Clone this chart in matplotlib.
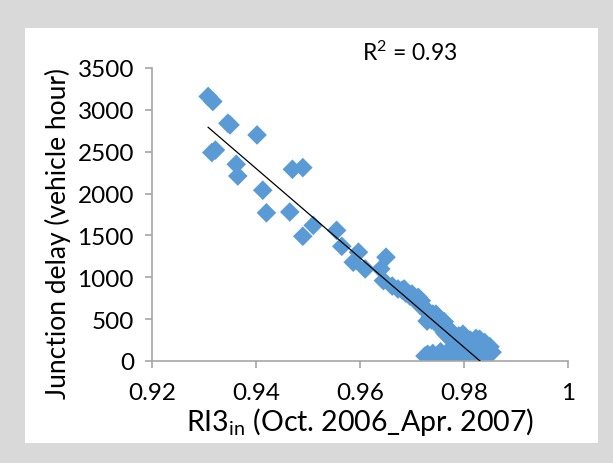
import numpy as np
import matplotlib.pyplot as plt
from matplotlib.patches import Rectangle

plt.rcParams['font.family'] = ['Lato', 'DejaVu Sans']
plt.rcParams['mathtext.fontset'] = 'custom'
plt.rcParams['mathtext.rm'] = 'Lato'
plt.rcParams['mathtext.it'] = 'Lato'

# scattered points (upper left part)
ri3_sparse = [0.9308, 0.9317, 0.9346, 0.9350, 0.9402, 0.9315, 0.9322, 0.9362,
              0.9365, 0.9413, 0.9420, 0.9470, 0.9490, 0.9465, 0.9490, 0.9510,
              0.9555, 0.9565, 0.9587, 0.9597, 0.9610, 0.9650, 0.9640, 0.9645]
delay_sparse = [3160, 3100, 2840, 2820, 2700, 2490, 2520, 2350,
                2210, 2040, 1770, 2290, 2310, 1780, 1490, 1620,
                1560, 1370, 1180, 1300, 1100, 1240, 1100, 960]

# dense band along the line
ri3_band = [0.9662, 0.9673, 0.9681, 0.9688, 0.9696, 0.9704, 0.9710, 0.9715,
            0.9721, 0.9727, 0.9731, 0.9735, 0.9729, 0.9738, 0.9744, 0.9748,
            0.9752, 0.9756, 0.9760, 0.9763, 0.9767, 0.9773, 0.9777, 0.9783,
            0.9788, 0.9794, 0.9798, 0.9804, 0.9810, 0.9815, 0.9821, 0.9827,
            0.9833, 0.9838, 0.9685, 0.9712, 0.9746, 0.9762, 0.9798, 0.9812,
            0.9823, 0.9835, 0.9845, 0.9854, 0.9790, 0.9768, 0.9700, 0.9718,
            0.9740, 0.9758, 0.9778, 0.9805, 0.9830, 0.9840, 0.9850]
delay_band = [895, 860, 847, 811, 775, 752, 716, 668,
              656, 608, 573, 525, 477, 489, 501, 453,
              418, 406, 370, 334, 310, 274, 250, 227,
              203, 227, 179, 155, 143, 119, 107, 131,
              95, 84, 860, 760, 560, 470, 320, 250,
              270, 190, 150, 105, 300, 400, 800, 720,
              560, 470, 330, 260, 260, 220, 170]

# flat cluster near zero
ri3_low = [0.9725, 0.9730, 0.9735, 0.9740, 0.9745, 0.9750, 0.9755, 0.9760,
           0.9765, 0.9770, 0.9775, 0.9780, 0.9785, 0.9790, 0.9795, 0.9800,
           0.9805, 0.9810, 0.9815, 0.9820, 0.9830, 0.9842, 0.9848]
delay_low = [60, 80, 40, 90, 50, 70, 110, 40,
             80, 120, 60, 90, 40, 70, 100, 50,
             60, 40, 80, 30, 40, 60, 90]

x = np.array(ri3_sparse + ri3_band + ri3_low)
y = np.array(delay_sparse + delay_band + delay_low)

fig = plt.figure(figsize=(6.13, 4.64), dpi=100)
fig.patch.set_facecolor('#d9d9d9')
fig.patches.append(Rectangle((25 / 613, 1 - 444 / 464), 573 / 613, 415 / 464,
                             transform=fig.transFigure, facecolor='white',
                             edgecolor='none', zorder=-5))

ax = fig.add_axes([152 / 613, 1 - 362 / 464, 416 / 613, 293 / 464])
ax.set_facecolor('none')

ax.scatter(x, y, marker='D', s=100, color='#5b9bd5', edgecolors='none', zorder=2)

# linear trend line
coef = np.polyfit(x, y, 1)
xl = np.array([x.min(), x.max()])
ax.plot(xl, np.polyval(coef, xl), color='black', lw=0.9, zorder=3)

ax.set_xlim(0.92, 1.0)
ax.set_ylim(0, 3500)
ax.set_xticks([0.92, 0.94, 0.96, 0.98, 1.0])
ax.set_xticklabels(['0.92', '0.94', '0.96', '0.98', '1'])
ax.set_yticks(range(0, 3501, 500))

for s in ['top', 'right']:
    ax.spines[s].set_visible(False)
for s in ['left', 'bottom']:
    ax.spines[s].set_color('#a6a6a6')
    ax.spines[s].set_linewidth(1.2)
ax.tick_params(axis='both', colors='#a6a6a6', labelcolor='black',
               labelsize=17.5, length=5, width=1.2)
ax.tick_params(axis='y', pad=8)
ax.tick_params(axis='x', pad=10)

ax.set_ylabel('Junction delay (vehicle hour)', fontsize=19)
ax.yaxis.set_label_coords(-0.195, 0.437)
ax.set_xlabel(r'RI3$_{\mathrm{in}}$ (Oct. 2006_Apr. 2007)', fontsize=20.5)
ax.xaxis.set_label_coords(0.5, -0.15)

fig.text(410 / 613, 1 - 53 / 464, r'R$^{2}$ = 0.93', fontsize=16.5, ha='center', va='center')

fig.savefig('out.png', dpi=100, facecolor=fig.get_facecolor())
